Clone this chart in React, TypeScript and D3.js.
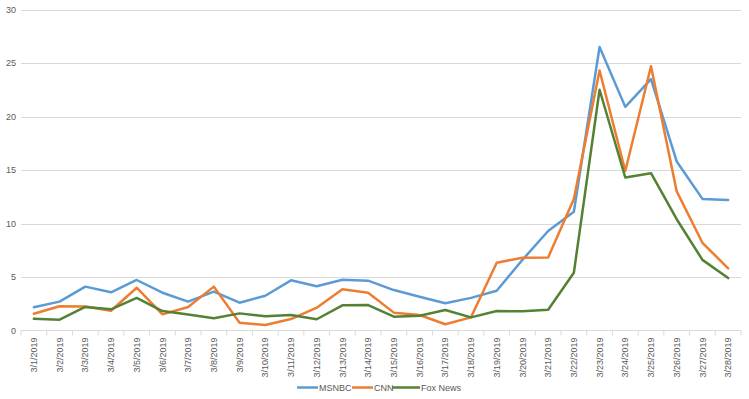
import React from "react";
import * as d3 from "d3";

const categories = [
  "3/1/2019","3/2/2019","3/3/2019","3/4/2019","3/5/2019","3/6/2019","3/7/2019",
  "3/8/2019","3/9/2019","3/10/2019","3/11/2019","3/12/2019","3/13/2019","3/14/2019",
  "3/15/2019","3/16/2019","3/17/2019","3/18/2019","3/19/2019","3/20/2019","3/21/2019",
  "3/22/2019","3/23/2019","3/24/2019","3/25/2019","3/26/2019","3/27/2019","3/28/2019",
];
const msnbc = [2.17,2.7,4.1,3.57,4.72,3.53,2.7,3.63,2.6,3.25,4.69,4.13,4.75,4.66,3.78,3.16,2.54,3.05,3.72,6.6,9.3,11.1,26.5,20.9,23.5,15.8,12.3,12.2];
const cnn = [1.57,2.26,2.24,1.85,4.0,1.51,2.2,4.1,0.73,0.51,1.07,2.13,3.85,3.53,1.67,1.45,0.58,1.23,6.34,6.8,6.83,12.3,24.3,14.9,24.7,13.0,8.2,5.8];
const fox = [1.1,1.01,2.2,1.98,3.04,1.82,1.5,1.14,1.6,1.33,1.45,1.05,2.35,2.38,1.29,1.38,1.92,1.23,1.82,1.79,1.94,5.4,22.5,14.3,14.7,10.4,6.6,4.9];
const yTicks = [0,5,10,15,20,25,30];

const series = [
  { name: "MSNBC", values: msnbc, color: "#5B9BD5" },
  { name: "CNN", values: cnn, color: "#ED7D31" },
  { name: "Fox News", values: fox, color: "#548235" },
];

const W = 749, H = 399;
const plotLeft = 21, plotRight = 741, plotTop = 9.5, plotBottom = 330.5;
const font = "'Liberation Sans', Arial, sans-serif";
const textColor = "#595959";

export default function App() {
  const x = d3.scaleBand<string>().domain(categories).range([plotLeft, plotRight]).padding(0);
  const y = d3.scaleLinear().domain([0, 30]).range([plotBottom, plotTop]);
  const cx = (c: string) => (x(c) as number) + x.bandwidth() / 2;
  const line = d3.line<number>().x((_, i) => cx(categories[i])).y((d) => y(d));

  const boundaries = categories.map((c) => x(c) as number).concat([plotRight]);

  const legend = [
    { name: "MSNBC", color: "#5B9BD5", x1: 297, x2: 318, tx: 319 },
    { name: "CNN", color: "#ED7D31", x1: 352, x2: 373, tx: 374 },
    { name: "Fox News", color: "#548235", x1: 392, x2: 420, tx: 421 },
  ];

  return (
    <svg width={W} height={H} style={{ position: "absolute", left: 0, top: 0, background: "#fff" }}>
      <rect x={0} y={0} width={W} height={H} fill="#fff" />
      {yTicks.map((t) => (
        <g key={t}>
          {t !== 0 && (
            <line x1={plotLeft} x2={plotRight} y1={Math.round(y(t)) + 0.5} y2={Math.round(y(t)) + 0.5} stroke="#d9d9d9" strokeWidth={1} />
          )}
          <text x={16} y={y(t)} dy="0.35em" textAnchor="end" fontFamily={font} fontSize={9} fill={textColor}>
            {t}
          </text>
        </g>
      ))}
      <line x1={plotLeft} x2={plotRight} y1={plotBottom} y2={plotBottom} stroke="#d9d9d9" strokeWidth={1} />
      {boundaries.map((b, i) => (
        <line key={i} x1={b} x2={b} y1={plotBottom} y2={plotBottom + 5} stroke="#d9d9d9" strokeWidth={1} />
      ))}
      {categories.map((c) => (
        <text
          key={c}
          transform={`translate(${cx(c)},${plotBottom + 7}) rotate(-90)`}
          textAnchor="end"
          dy="0.35em"
          fontFamily={font}
          fontSize={9}
          fill={textColor}
        >
          {c}
        </text>
      ))}
      {series.map((s) => (
        <path key={s.name} d={line(s.values) || ""} fill="none" stroke={s.color} strokeWidth={2.5} strokeLinejoin="round" strokeLinecap="round" />
      ))}
      {legend.map((l) => (
        <g key={l.name}>
          <line x1={l.x1} x2={l.x2} y1={387.5} y2={387.5} stroke={l.color} strokeWidth={2.5} />
          <text x={l.tx} y={387.5} dy="0.35em" fontFamily={font} fontSize={9} fill={textColor}>
            {l.name}
          </text>
        </g>
      ))}
    </svg>
  );
}
